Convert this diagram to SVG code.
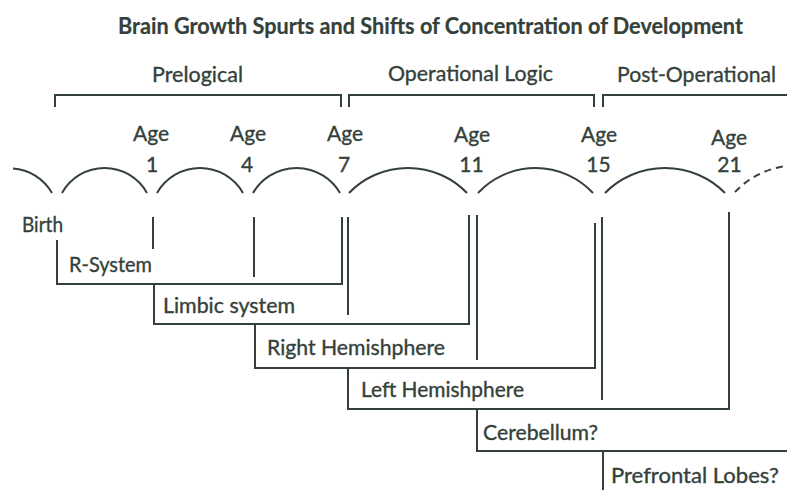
<svg xmlns="http://www.w3.org/2000/svg" width="787" height="490" viewBox="0 0 787 490">
  <style>
    .t { font-family: Lato, "Liberation Sans", sans-serif; fill: #34413a; stroke: #34413a; stroke-width: 0.35; font-size: 21px; }
    .title { font-weight: bold; font-size: 22px; stroke-width: 0.2; }
    .ph { font-size: 22px; }
    .ln { fill: none; stroke: #34413a; stroke-width: 2; stroke-linecap: butt; }
    .dash { stroke-dasharray: 7 5; }
  </style>
  <rect width="787" height="490" fill="#ffffff"/>

  <g id="title">
    <text class="t title" x="118" y="34" textLength="625" lengthAdjust="spacingAndGlyphs">Brain Growth Spurts and Shifts of Concentration of Development</text>
  </g>

  <g id="phase-prelogical">
    <text class="t ph" x="152" y="82" textLength="91" lengthAdjust="spacingAndGlyphs">Prelogical</text>
    <path class="ln" d="M55 107 V95 H341 V107"/>
  </g>
  <g id="phase-operational-logic">
    <text class="t ph" x="388" y="81" textLength="165" lengthAdjust="spacingAndGlyphs">Operational Logic</text>
    <path class="ln" d="M349 107 V95 H594 V107"/>
  </g>
  <g id="phase-post-operational">
    <text class="t ph" x="617" y="82" textLength="159" lengthAdjust="spacingAndGlyphs">Post-Operational</text>
    <path class="ln" d="M603 107 V95 H787"/>
  </g>

  <g id="age-birth">
    <text class="t" x="22" y="232" textLength="41" lengthAdjust="spacingAndGlyphs">Birth</text>
  </g>
  <g id="age-1" text-anchor="middle">
    <text class="t" x="151" y="141">Age</text>
    <text class="t" x="152" y="172">1</text>
  </g>
  <g id="age-4" text-anchor="middle">
    <text class="t" x="248" y="141">Age</text>
    <text class="t" x="247" y="172">4</text>
  </g>
  <g id="age-7" text-anchor="middle">
    <text class="t" x="345" y="141">Age</text>
    <text class="t" x="344" y="172">7</text>
  </g>
  <g id="age-11" text-anchor="middle">
    <text class="t" x="472" y="142">Age</text>
    <text class="t" x="471.5" y="172">11</text>
  </g>
  <g id="age-15" text-anchor="middle">
    <text class="t" x="599" y="142">Age</text>
    <text class="t" x="598.5" y="172">15</text>
  </g>
  <g id="age-21" text-anchor="middle">
    <text class="t" x="729" y="145">Age</text>
    <text class="t" x="729.5" y="172">21</text>
  </g>

  <g id="stage-r-system">
    <text class="t" x="69" y="272" textLength="83" lengthAdjust="spacingAndGlyphs">R-System</text>
    <path class="ln" d="M57 240 V284 H342 V217"/>
  </g>
  <g id="stage-limbic-system">
    <text class="t" x="163" y="313" textLength="132" lengthAdjust="spacingAndGlyphs">Limbic system</text>
    <path class="ln" d="M154 284 V324 H469 V215"/>
  </g>
  <g id="stage-right-hemisphere">
    <text class="t" x="267" y="355" textLength="178" lengthAdjust="spacingAndGlyphs">Right Hemishphere</text>
    <path class="ln" d="M255 324 V368 H595 V223"/>
  </g>
  <g id="stage-left-hemisphere">
    <text class="t" x="361" y="397" textLength="163" lengthAdjust="spacingAndGlyphs">Left Hemishphere</text>
    <path class="ln" d="M348 368 V409 H729 V212"/>
  </g>
  <g id="stage-cerebellum">
    <text class="t" x="483" y="440" textLength="115" lengthAdjust="spacingAndGlyphs">Cerebellum?</text>
    <path class="ln" d="M477 409 V451 H787"/>
  </g>
  <g id="stage-prefrontal-lobes">
    <text class="t" x="611" y="483" textLength="168" lengthAdjust="spacingAndGlyphs">Prefrontal Lobes?</text>
    <path class="ln" d="M603 451 V490"/>
  </g>

  <g id="connectors">
    <g id="growth-arcs">
      <path class="ln" d="M13 168.5 A48.6 48.6 0 0 1 52 193"/>
      <path class="ln" d="M62 193 A48.6 48.6 0 0 1 147 193"/>
      <path class="ln" d="M157 193 A49.5 49.5 0 0 1 243 193"/>
      <path class="ln" d="M253 193 A50.3 50.3 0 0 1 340 193"/>
      <path class="ln" d="M349 193 A82 82 0 0 1 467 193"/>
      <path class="ln" d="M478 193 A78.6 78.6 0 0 1 593 193"/>
      <path class="ln" d="M605 193 A84.5 84.5 0 0 1 725 193"/>
      <path class="ln dash" d="M735 192 A84.5 84.5 0 0 1 787 166"/>
    </g>
    <g id="age-stubs">
      <path class="ln" d="M153 217 V249"/>
      <path class="ln" d="M254 217 V277"/>
      <path class="ln" d="M348 217 V315"/>
      <path class="ln" d="M477 215 V360"/>
      <path class="ln" d="M602 217 V400"/>
    </g>
  </g>
</svg>
